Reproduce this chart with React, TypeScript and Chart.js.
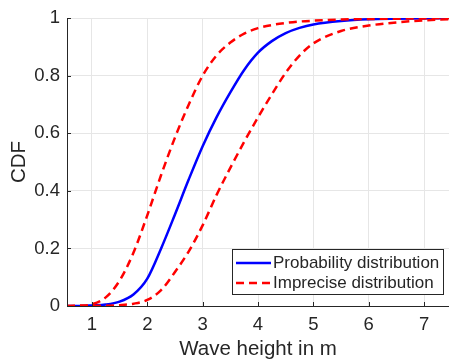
import React, { useEffect, useRef } from "react";
import { Chart, registerables } from "chart.js";

Chart.register(...registerables);

const xValues = [0.55, 0.75, 1, 1.25, 1.5, 1.75, 2, 2.25, 2.5, 2.75, 3, 3.25, 3.5, 3.75, 4, 4.25, 4.5, 4.75, 5, 5.5, 6, 6.5, 7, 7.45];
const probability = [0, 0, 0.002, 0.005, 0.015, 0.04, 0.095, 0.2, 0.318, 0.44, 0.555, 0.655, 0.742, 0.82, 0.88, 0.92, 0.948, 0.966, 0.978, 0.99, 0.996, 0.998, 0.999, 1];
const impreciseUpper = [0, 0.001, 0.006, 0.03, 0.088, 0.185, 0.315, 0.455, 0.585, 0.7, 0.8, 0.87, 0.915, 0.946, 0.965, 0.976, 0.983, 0.988, 0.991, 0.995, 0.997, 0.998, 0.999, 1];
const impreciseLower = [0, 0, 0, 0.001, 0.003, 0.008, 0.021, 0.055, 0.118, 0.19, 0.28, 0.385, 0.48, 0.57, 0.655, 0.735, 0.81, 0.87, 0.912, 0.955, 0.974, 0.985, 0.992, 0.996];
const xTicks = [1, 2, 3, 4, 5, 6, 7];
const yTicks = [0, 0.2, 0.4, 0.6, 0.8, 1];
const legendLabels = ["Probability distribution", "Imprecise distribution"];

const FONT = "'Liberation Sans', Arial, sans-serif";
const TEXT = "#262626";
const DASH = [8, 5];
const LW = 2.5;

const toPoints = (ys: number[]) => xValues.map((x, i) => ({ x, y: ys[i] }));

const innerTicksAndLegend = {
  id: "innerTicksAndLegend",
  afterDatasetsDraw(chart: any) {
    const { ctx, chartArea, scales } = chart;
    const xs = scales.x;
    const ys = scales.y;
    ctx.save();
    ctx.strokeStyle = TEXT;
    ctx.lineWidth = 1;
    ctx.beginPath();
    ctx.moveTo(chartArea.left + 0.5, chartArea.top);
    ctx.lineTo(chartArea.left + 0.5, chartArea.bottom + 0.5);
    ctx.lineTo(chartArea.right, chartArea.bottom + 0.5);
    ctx.stroke();
    ctx.beginPath();
    xTicks.forEach((t) => {
      const px = Math.round(xs.getPixelForValue(t)) + 0.5;
      ctx.moveTo(px, chartArea.bottom);
      ctx.lineTo(px, chartArea.bottom - 4);
    });
    yTicks.forEach((t) => {
      const py = Math.round(ys.getPixelForValue(t)) + 0.5;
      ctx.moveTo(chartArea.left, py);
      ctx.lineTo(chartArea.left + 4, py);
    });
    ctx.stroke();

    const bx = chartArea.right - 217;
    const by = chartArea.bottom - 57;
    const bw = 211;
    const bh = 45;
    ctx.fillStyle = "#ffffff";
    ctx.fillRect(bx, by, bw, bh);
    ctx.strokeStyle = "#262626";
    ctx.lineWidth = 1;
    ctx.strokeRect(bx + 0.5, by + 0.5, bw, bh);
    const rows = [
      { label: legendLabels[0], color: "#0000ff", dash: [] as number[] },
      { label: legendLabels[1], color: "#ff0000", dash: DASH },
    ];
    ctx.font = `17px ${FONT}`;
    ctx.textBaseline = "middle";
    rows.forEach((r, i) => {
      const cy = by + 14 + i * 20;
      ctx.strokeStyle = r.color;
      ctx.lineWidth = LW;
      ctx.setLineDash(r.dash);
      ctx.beginPath();
      ctx.moveTo(bx + 4, cy);
      ctx.lineTo(bx + 39, cy);
      ctx.stroke();
      ctx.setLineDash([]);
      ctx.fillStyle = TEXT;
      ctx.fillText(r.label, bx + 41, cy + 0.5);
    });
    ctx.restore();
  },
};

export default function App() {
  const canvasRef = useRef<HTMLCanvasElement | null>(null);

  useEffect(() => {
    if (!canvasRef.current) return;
    const common = {
      borderWidth: LW,
      pointRadius: 0,
      cubicInterpolationMode: "monotone",
    };
    const chart = new Chart(canvasRef.current, {
      type: "line",
      data: {
        datasets: [
          {
            ...common,
            label: legendLabels[0],
            data: toPoints(probability),
            borderColor: "#0000ff",
            order: 2,
          },
          {
            ...common,
            label: legendLabels[1],
            data: toPoints(impreciseUpper),
            borderColor: "#ff0000",
            borderDash: DASH,
            order: 1,
          },
          {
            ...common,
            label: legendLabels[1] + " lower",
            data: toPoints(impreciseLower),
            borderColor: "#ff0000",
            borderDash: DASH,
            order: 1,
          },
        ],
      },
      options: {
        animation: false,
        responsive: false,
        maintainAspectRatio: false,
        layout: { padding: { top: 17, right: 0, left: 0, bottom: 0 } },
        plugins: {
          legend: { display: false },
          tooltip: { enabled: false },
        },
        scales: {
          x: {
            type: "linear",
            min: 0.55,
            max: 7.45,
            afterBuildTicks: (scale: any) => {
              scale.ticks = xTicks.map((v) => ({ value: v }));
            },
            afterFit: (scale: any) => {
              scale.height = 54;
            },
            border: { display: false },
            grid: { color: "#e6e6e6", drawTicks: false },
            ticks: {
              color: TEXT,
              font: { family: FONT, size: 18.5 },
              padding: 8,
              maxRotation: 0,
              callback: (v: any) => String(v),
            },
            title: {
              display: true,
              text: "Wave height in m",
              color: TEXT,
              font: { family: FONT, size: 20.5 },
              padding: { top: 2, bottom: -2 },
            },
          },
          y: {
            type: "linear",
            min: 0,
            max: 1,
            afterBuildTicks: (scale: any) => {
              scale.ticks = yTicks.map((v) => ({ value: v }));
            },
            afterFit: (scale: any) => {
              scale.width = 67;
            },
            border: { display: false },
            grid: { color: "#e6e6e6", drawTicks: false },
            ticks: {
              color: TEXT,
              font: { family: FONT, size: 18.5 },
              padding: 7,
              callback: (v: any) => String(Math.round(v * 10) / 10),
            },
            title: {
              display: true,
              text: "CDF",
              color: TEXT,
              font: { family: FONT, size: 20.5 },
              padding: { top: 7, bottom: 0 },
            },
          },
        },
      },
      plugins: [innerTicksAndLegend],
    } as any);
    return () => chart.destroy();
  }, []);

  return (
    <div style={{ position: "fixed", left: 0, top: 0, width: 449, height: 360, background: "#fff" }}>
      <canvas ref={canvasRef} width={449} height={360} style={{ display: "block" }} />
    </div>
  );
}
